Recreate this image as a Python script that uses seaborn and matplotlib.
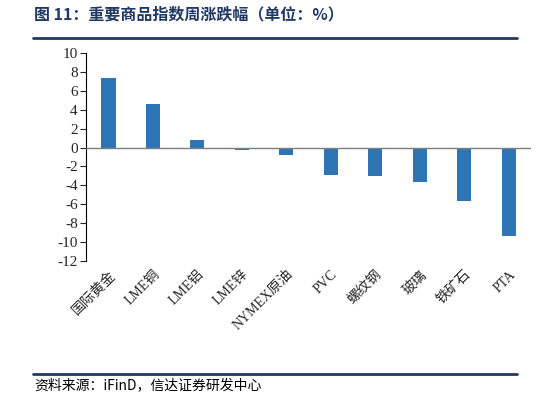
import matplotlib
matplotlib.use("Agg")
import matplotlib.pyplot as plt
import seaborn as sns
import pandas as pd

# data
categories = ['国际黄金', 'LME铜', 'LME铝', 'LME锌', 'NYMEX原油', 'PVC', '螺纹钢', '玻璃', '铁矿石', 'PTA']
changes = [7.35, 4.6, 0.75, -0.25, -0.75, -2.9, -3.05, -3.6, -5.7, -9.4]
yticks = list(range(-12, 11, 2))

df = pd.DataFrame({'品种': categories, '涨跌幅': changes})

sns.set_style("white")
plt.rcParams['font.family'] = ['Liberation Serif', 'Noto Sans CJK SC']
plt.rcParams['axes.unicode_minus'] = False

fig = plt.figure(figsize=(5.49, 3.99), dpi=100)
ax = fig.add_axes([0.157, 0.346, 0.81, 0.521])

sns.barplot(data=df, x='品种', y='涨跌幅', color='#2e75b6', saturation=1,
            width=0.32, linewidth=0, ax=ax, zorder=3)

ax.set_ylim(-12, 10)
ax.set_xlim(-0.5, 9.5)
ax.set_yticks(yticks)
ax.set_yticklabels([str(t) for t in yticks], fontsize=11)
ax.axhline(0, color='#7f7f7f', lw=1.0, zorder=5)
ax.set_xlabel('')
ax.set_ylabel('')

for s in ['top', 'right', 'bottom']:
    ax.spines[s].set_visible(False)
ax.spines['left'].set_color('black')
ax.spines['left'].set_linewidth(0.8)
ax.tick_params(axis='y', direction='out', length=4, width=0.8, left=True, pad=2)
ax.tick_params(axis='x', length=0, pad=5)
ax.set_xticks(range(len(categories)))
ax.set_xticklabels(categories, rotation=45, ha='right', rotation_mode='anchor',
                   fontsize=10, family=['Liberation Serif', 'Noto Sans CJK SC'])

navy = '#1f3864'
fig.text(0.062, 0.965, '图 11：重要商品指数周涨跌幅（单位：%）', fontsize=11.5,
         fontweight='bold', color=navy, va='center',
         family=['Noto Sans CJK SC', 'DejaVu Sans'])
fig.add_artist(plt.Line2D([0.06, 0.942], [0.905, 0.905], color=navy, lw=2))
fig.add_artist(plt.Line2D([0.06, 0.942], [0.063, 0.063], color=navy, lw=2))
fig.text(0.062, 0.035, '资料来源：iFinD，信达证券研发中心', fontsize=10, style='italic',
         color='black', va='center', family=['Noto Sans CJK SC', 'DejaVu Sans'])

fig.savefig('out.png', dpi=100)
